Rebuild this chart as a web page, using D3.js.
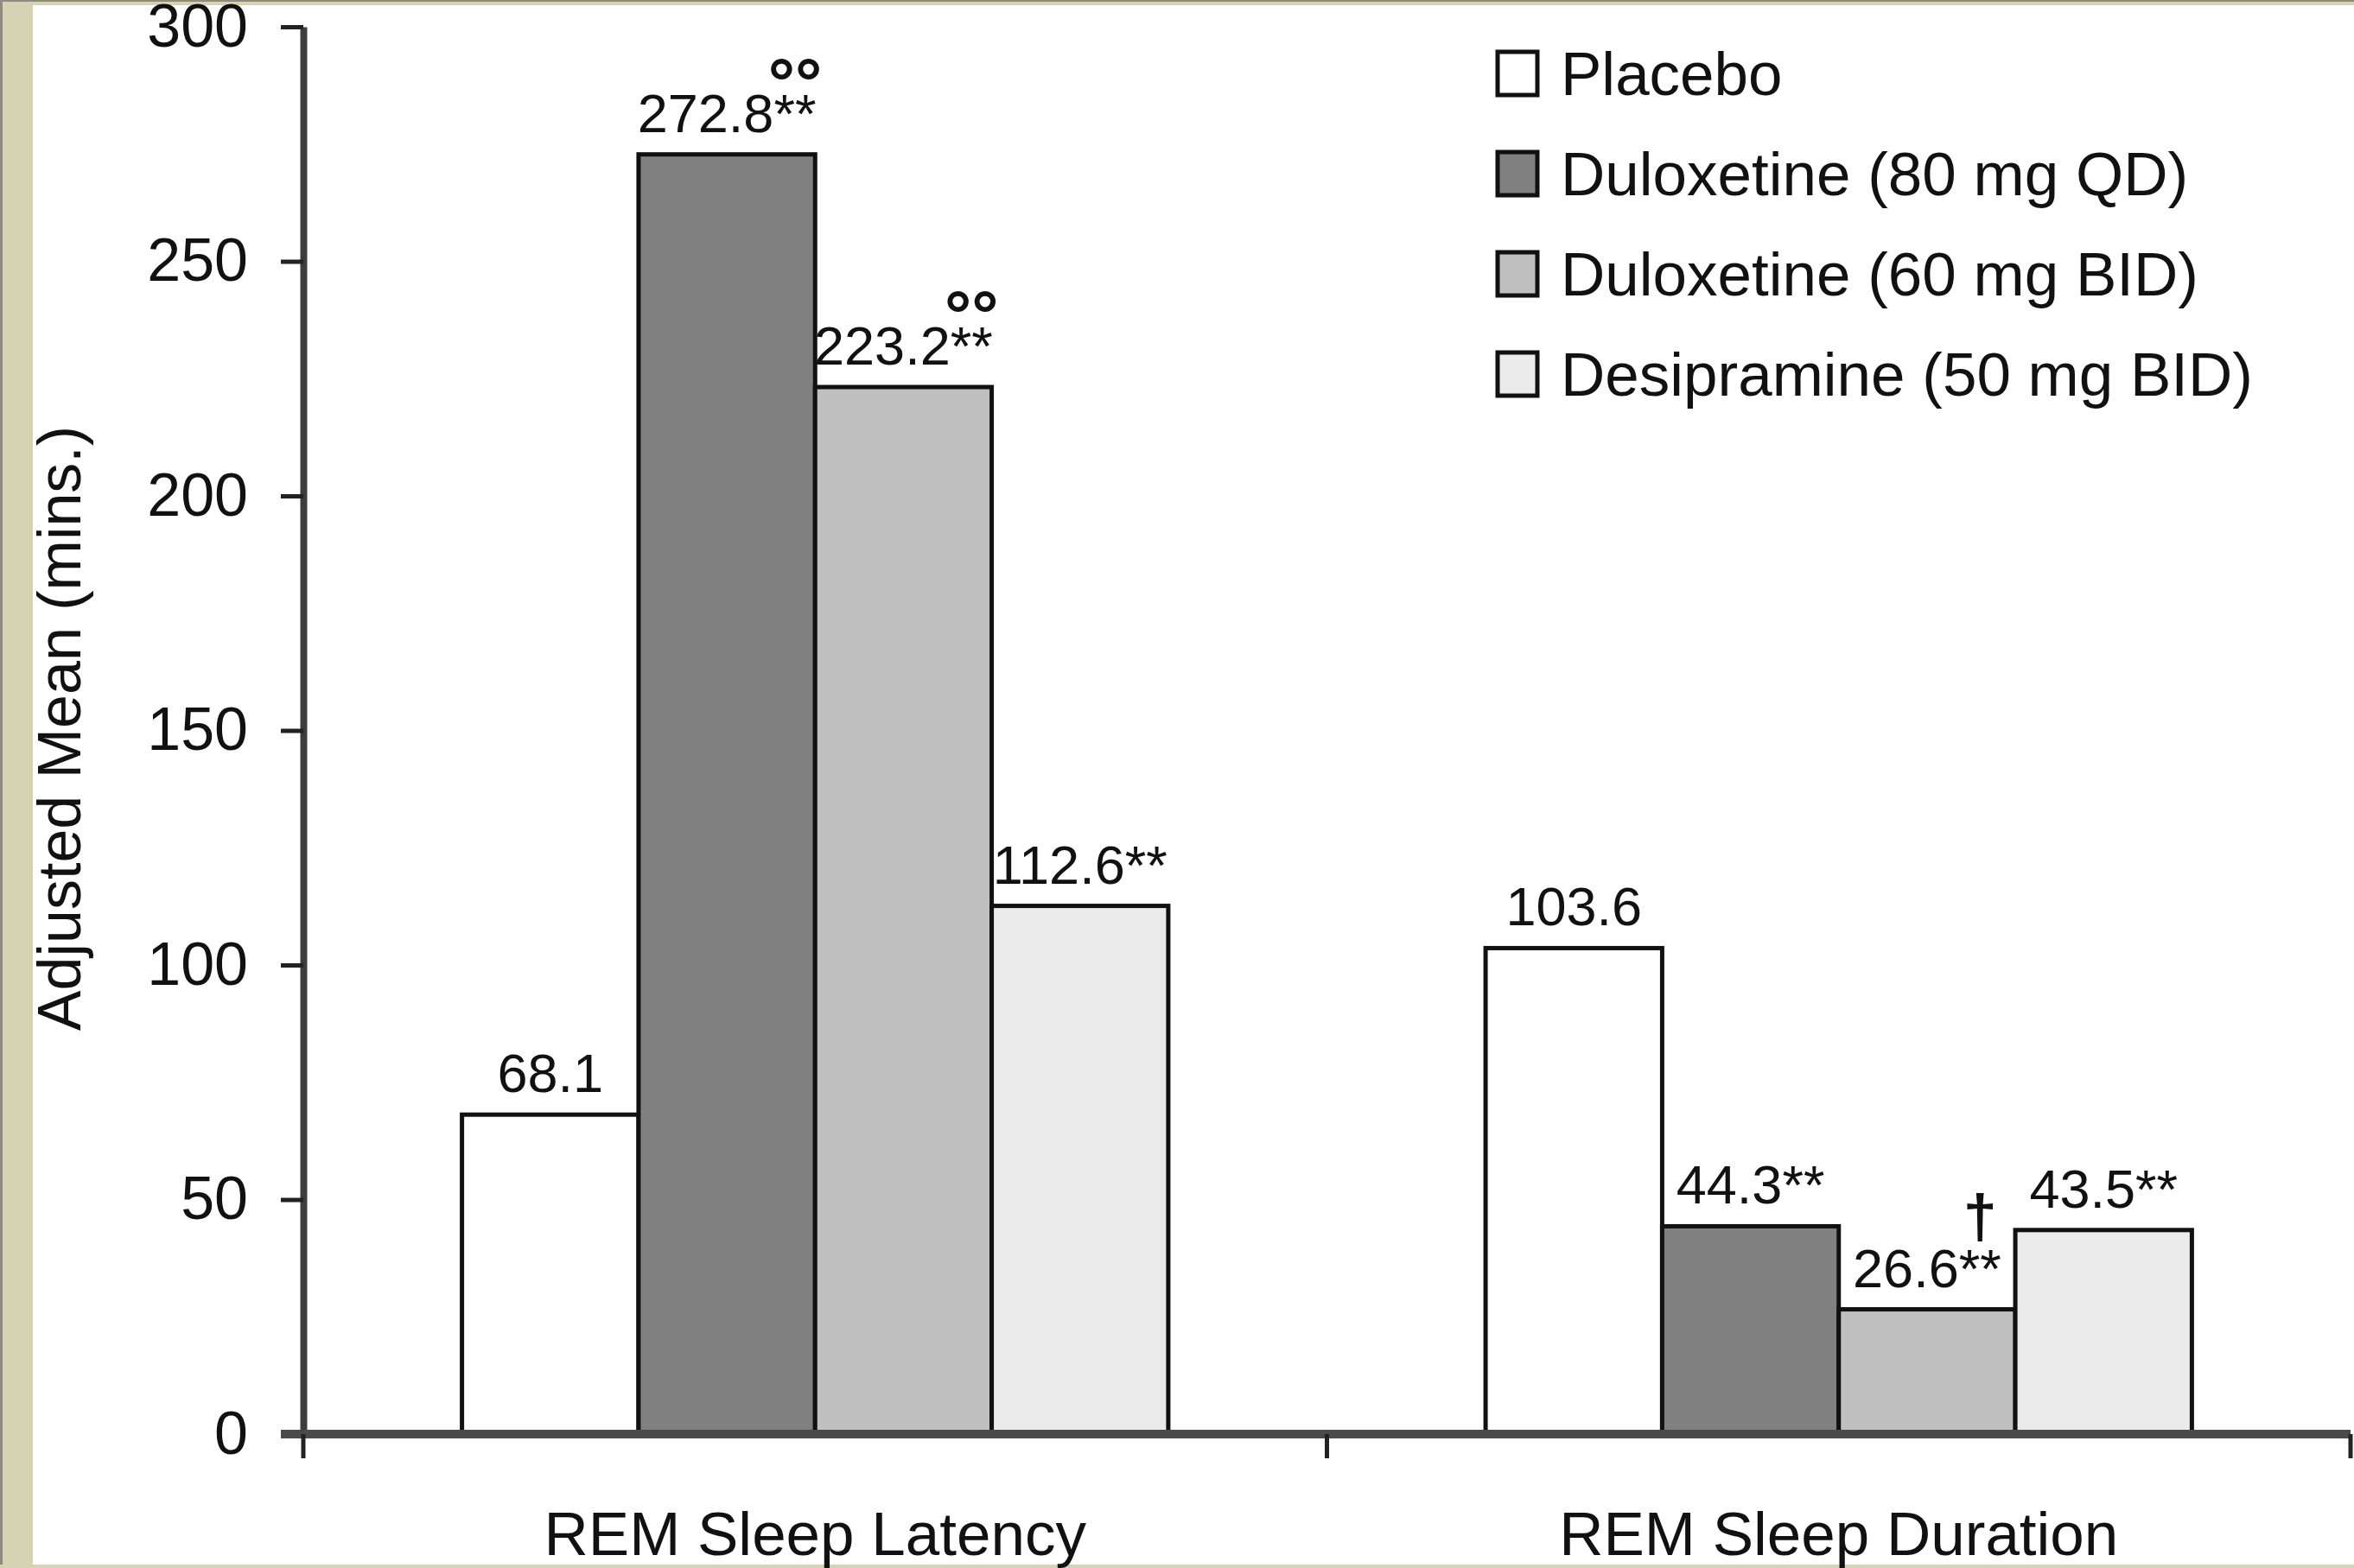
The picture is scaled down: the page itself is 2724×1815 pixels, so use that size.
<!DOCTYPE html>
<html>
<head>
<meta charset="utf-8">
<script src="https://cdn.jsdelivr.net/npm/d3@7"></script>
<style>
  html, body { margin: 0; padding: 0; background: #ffffff; }
  svg { display: block; }
  text { font-family: "Liberation Sans", Arial, Helvetica, sans-serif; fill: #111; }
</style>
</head>
<body>
<script>
// ---------- data ----------
const categories = ["REM Sleep Latency", "REM Sleep Duration"];
const seriesNames = ["Placebo", "Duloxetine (80 mg QD)", "Duloxetine (60 mg BID)", "Desipramine (50 mg BID)"];
const placebo     = [68.1, 103.6];
const dulox80     = [272.8, 44.3];
const dulox60     = [223.2, 26.6];
const desipramine = [112.6, 43.5];
const placeboStars     = ["", ""];
const dulox80Stars     = ["**", "**"];
const dulox60Stars     = ["**", "**"];
const desipramineStars = ["**", "**"];
const placeboMarks     = ["", ""];
const dulox80Marks     = ["°°", ""];
const dulox60Marks     = ["°°", "†"];
const desipramineMarks = ["", ""];
const yTicks = [0, 50, 100, 150, 200, 250, 300];
const yTitle = "Adjusted Mean (mins.)";

const seriesValues = [placebo, dulox80, dulox60, desipramine];
const seriesStars  = [placeboStars, dulox80Stars, dulox60Stars, desipramineStars];
const seriesMarks  = [placeboMarks, dulox80Marks, dulox60Marks, desipramineMarks];
const fills = ["#ffffff", "#808080", "#c0c0c0", "#ebebeb"];

// ---------- layout ----------
const W = 2724, H = 1815;
const svg = d3.select("body").append("svg").attr("width", W).attr("height", H);

// frame / background
svg.append("rect").attr("x", 0).attr("y", 0).attr("width", W).attr("height", H).attr("fill", "#ffffff");
svg.append("rect").attr("x", 0).attr("y", 0).attr("width", 38).attr("height", H).attr("fill", "#d5d3b4");
svg.append("rect").attr("x", 0).attr("y", 0).attr("width", W).attr("height", 6).attr("fill", "#d5d3b4");
svg.append("rect").attr("x", 0).attr("y", 0).attr("width", W).attr("height", 2).attr("fill", "#8c8c80");
svg.append("rect").attr("x", 0).attr("y", 0).attr("width", 3).attr("height", H).attr("fill", "#8c8c80");
svg.append("rect").attr("x", 0).attr("y", H - 4).attr("width", W).attr("height", 4).attr("fill", "#d5d3b4");

const x0L = 351, x0R = 2720, yBase = 1660, yTop = 31;

const y = d3.scaleLinear().domain([0, 300]).range([yBase, yTop]);
const x0 = d3.scaleBand().domain(categories).range([x0L, x0R]).paddingInner(0.31).paddingOuter(0.155);
const x1 = d3.scaleBand().domain(d3.range(seriesNames.length)).range([0, x0.bandwidth()]).padding(0);

// bars
const g = svg.append("g");
categories.forEach((cat, ci) => {
  seriesValues.forEach((vals, si) => {
    const v = vals[ci];
    g.append("rect")
      .attr("x", x0(cat) + x1(si))
      .attr("y", y(v))
      .attr("width", x1.bandwidth())
      .attr("height", y(0) - y(v))
      .attr("fill", fills[si])
      .attr("stroke", "#111")
      .attr("stroke-width", 5);
  });
});

// value labels
categories.forEach((cat, ci) => {
  seriesValues.forEach((vals, si) => {
    const v = vals[ci];
    const cx = x0(cat) + x1(si) + x1.bandwidth() / 2;
    const by = y(v) - 26;
    const t = svg.append("text")
      .attr("x", cx).attr("y", by)
      .attr("text-anchor", "middle")
      .attr("font-size", 63);
    t.append("tspan").text(v.toFixed(1));
    const st = t.append("tspan").text(seriesStars[si][ci]);
    const mark = seriesMarks[si][ci];
    if (mark) {
      const bb = t.node().getBBox();
      const starW = st.node().getComputedTextLength();
      const mx = bb.x + bb.width - starW / 2;
      const isDagger = mark === "†";
      svg.append("text")
        .attr("x", mx).attr("y", by - (isDagger ? 58 : 31))
        .attr("text-anchor", "middle")
        .attr("font-size", isDagger ? 70 : 78)
        .attr("font-weight", "bold")
        .attr("fill", isDagger ? "#111" : "#666")
        .text(mark);
    }
  });
});

// y axis
const yAxis = svg.append("g")
  .attr("transform", `translate(${x0L},0)`)
  .call(d3.axisLeft(y).tickValues(yTicks).tickSize(26).tickPadding(38).tickSizeOuter(0));
yAxis.select(".domain").attr("stroke", "#3c3c3c").attr("stroke-width", 8);
yAxis.selectAll(".tick line").attr("stroke", "#222").attr("stroke-width", 5);
yAxis.selectAll(".tick text")
  .attr("font-size", 70)
  .attr("font-family", "\"Liberation Sans\", Arial, sans-serif")
  .attr("fill", "#111");

// x axis (line + boundary ticks + category labels)
const bounds = [x0L].concat(categories.map(c => x0(c) - x0.step() * x0.paddingInner() / 2 + x0.step())).slice(0, categories.length + 1);
svg.append("line")
  .attr("x1", x0L - 26).attr("x2", x0R)
  .attr("y1", yBase).attr("y2", yBase)
  .attr("stroke", "#4a4a4a").attr("stroke-width", 10);
bounds.forEach(bx => {
  svg.append("line")
    .attr("x1", bx).attr("x2", bx)
    .attr("y1", yBase).attr("y2", yBase + 28)
    .attr("stroke", "#222").attr("stroke-width", 5);
});
categories.forEach(cat => {
  svg.append("text")
    .attr("x", x0(cat) + x0.bandwidth() / 2)
    .attr("y", 1800)
    .attr("text-anchor", "middle")
    .attr("font-size", 71)
    .text(cat);
});

// y title
svg.append("text")
  .attr("transform", "translate(69,843) rotate(-90)")
  .attr("text-anchor", "middle")
  .attr("dominant-baseline", "central")
  .attr("font-size", 70)
  .text(yTitle);

// legend
const lg = svg.append("g").attr("transform", "translate(1733,0)");
const legendBaselines = seriesNames.map((_, i) => 110 + i * 116);
seriesNames.forEach((name, i) => {
  const b = legendBaselines[i];
  lg.append("rect")
    .attr("x", 0).attr("y", b - 50)
    .attr("width", 46).attr("height", 50)
    .attr("fill", fills[i])
    .attr("stroke", "#111").attr("stroke-width", 5);
  lg.append("text")
    .attr("x", 73).attr("y", b)
    .attr("font-size", 71)
    .text(name);
});
</script>
</body>
</html>
